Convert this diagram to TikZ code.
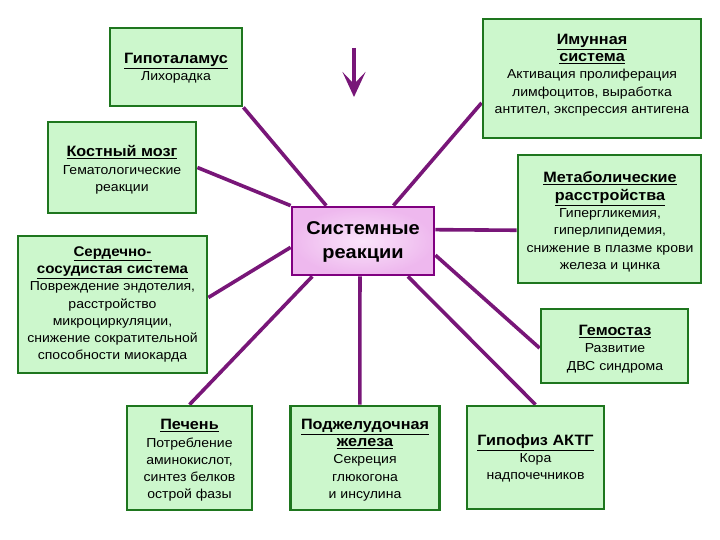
\documentclass[tikz,border=0pt]{standalone}
\usepackage{fontspec}
\setmainfont{Liberation Sans}[FakeStretch=1.08]
\usetikzlibrary{arrows.meta,calc,backgrounds}
\definecolor{boxfill}{RGB}{204,247,204}
\definecolor{boxedge}{RGB}{30,118,30}
\definecolor{conncol}{RGB}{120,22,120}
\definecolor{cinner}{RGB}{250,228,250}
\definecolor{couter}{RGB}{238,184,238}
\definecolor{cedge}{RGB}{128,0,128}
\newcommand{\hdr}[1]{{\fontsize{15}{17}\selectfont\bfseries\underline{#1}}}
\newcommand{\hdrs}[1]{{\fontsize{14}{17}\selectfont\bfseries\underline{#1}}}
\begin{document}
\begin{tikzpicture}[x=1pt,y=-1pt,
  box/.style={draw=boxedge, line width=2.8pt, fill=boxfill, inner sep=0pt},
  txt/.style={align=center, inner sep=0pt, font=\fontsize{13}{17.3}\selectfont},
  conn/.style={draw=conncol, line width=3.6pt}]
\useasboundingbox (0,0) rectangle (720,540);

% boxes
\node[box, minimum width=132pt, minimum height=78pt] (hyp) at (176,67) {};
\node[box, minimum width=218pt, minimum height=119pt] (imm) at (592,78.5) {};
\node[box, minimum width=148pt, minimum height=91pt] (kost) at (122,167.5) {};
\node[box, minimum width=183pt, minimum height=128pt] (metab) at (609.5,219) {};
\node[box, minimum width=189pt, minimum height=137pt] (cardio) at (112.5,304.5) {};
\node[box, minimum width=147pt, minimum height=74pt] (hemo) at (614.5,346) {};
\node[box, minimum width=125pt, minimum height=104pt] (liver) at (189.5,458) {};
\node[box, minimum width=149pt, minimum height=104pt] (panc) at (365,458) {};
\node[box, minimum width=137pt, minimum height=103pt] (pit) at (535.5,457.5) {};
\node[draw=cedge, line width=2.8pt, shade, inner color=cinner, outer color=couter,
      minimum width=142pt, minimum height=68pt, inner sep=0pt] (sr) at (363,241) {};

% texts
\node[txt] (thyp) at (176,68.5) {\hdr{Гипоталамус}\\Лихорадка};
\node[txt] (timm) at (592,75) {\hdr{Имунная}\\\hdr{система}\\Активация пролиферация\\лимфоцитов, выработка\\антител, экспрессия антигена};
\node[txt] (tkost) at (122,170) {\hdr{Костный мозг}\\Гематологические\\реакции};
\node[txt] (tmetab) at (610,222) {\hdr{Метаболические}\\\hdr{расстройства}\\Гипергликемия,\\гиперлипидемия,\\снижение в плазме крови\\железа и цинка};
\node[txt] (tcardio) at (112.5,304.5) {\hdrs{Сердечно-}\\\hdrs{сосудистая система}\\Повреждение эндотелия,\\расстройство\\микроциркуляции,\\снижение сократительной\\способности миокарда};
\node[txt] (themo) at (615,349) {\hdr{Гемостаз}\\Развитие\\ДВС синдрома};
\node[txt] (tliver) at (189.5,460.5) {\hdr{Печень}\\Потребление\\аминокислот,\\синтез белков\\острой фазы};
\node[txt] (tpanc) at (365,460) {\hdr{Поджелудочная}\\\hdr{железа}\\Секреция\\глюкогона\\и инсулина};
\node[txt] (tpit) at (535.5,458.5) {\hdr{Гипофиз АКТГ}\\Кора\\надпочечников};
\node[align=center, inner sep=0pt, font=\fontsize{18.5}{24}\selectfont\bfseries] (tsr) at (363,242) {Системные\\реакции};

% arrow
\coordinate (a1) at (354,48);
\coordinate (a2) at (354,97);
\draw[conn, line width=4pt, -{Stealth[length=25pt,width=23pt,inset=12pt]}] (a1) -- (a2);

% connectors
\begin{pgfonlayer}{background}
\fill[white] (0,0) rectangle (720,540);
\draw[conn] (hyp.south east) -- ($(sr.north west)!0.246!(sr.north east)$);
\draw[conn] ($(imm.north west)!0.70!(imm.south west)$) -- ($(sr.north west)!0.71!(sr.north east)$);
\draw[conn] (kost.east) -- (sr.north west);
\draw[conn] ($(metab.north west)!0.586!(metab.south west)$) -- ($(sr.north east)!0.34!(sr.south east)$);
\draw[conn] ($(cardio.north east)!0.45!(cardio.south east)$) -- ($(sr.north west)!0.59!(sr.south west)$);
\draw[conn] ($(hemo.north west)!0.527!(hemo.south west)$) -- ($(sr.north east)!0.70!(sr.south east)$);
\draw[conn] (liver.north) -- ($(sr.south west)!0.15!(sr.south east)$);
\draw[conn] ($(panc.north west)!0.466!(panc.north east)$) -- ($(sr.south west)!0.479!(sr.south east)$);
\draw[conn] (pit.north) -- ($(sr.south west)!0.81!(sr.south east)$);
\end{pgfonlayer}
\end{tikzpicture}
\end{document}
